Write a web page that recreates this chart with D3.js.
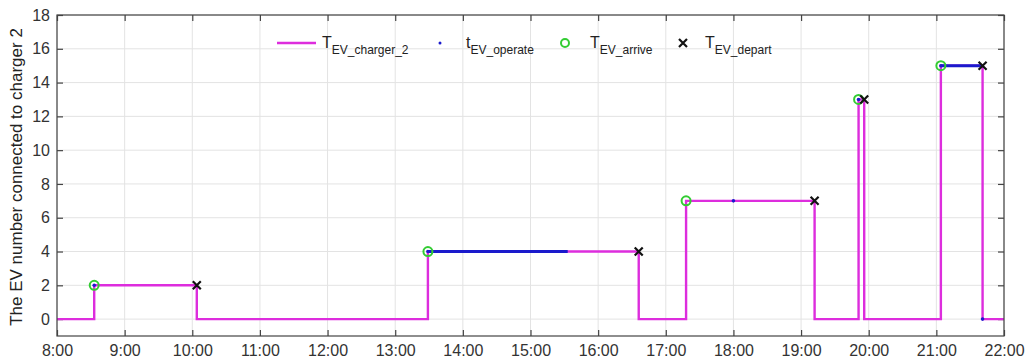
<!DOCTYPE html>
<html>
<head>
<meta charset="utf-8">
<script src="https://cdn.jsdelivr.net/npm/d3@7"></script>
<style>
  body { margin: 0; background: #fff; }
</style>
</head>
<body>
<div id="wrapper"></div>
<script>
// data
const stepTimes = ["8:00", "8:33", "10:04", "13:29", "16:36", "17:18", "19:12", "19:51", "19:56", "21:04", "21:41", "22:00"]
const stepValues = [0, 2, 0, 4, 0, 7, 0, 13, 0, 15, 0, 0]

const arriveTimes = ["8:33", "13:29", "17:18", "19:51", "21:04"]
const arriveValues = [2, 4, 7, 13, 15]

const departTimes = ["10:04", "16:36", "19:12", "19:56", "21:41"]
const departValues = [2, 4, 7, 13, 15]

const operateStart = ["8:33", "13:29", "18:00", "19:51", "21:04", "21:41"]
const operateEnd = ["8:33", "15:33", "18:00", "19:51", "21:41", "21:41"]
const operateValues = [2, 4, 7, 13, 15, 0]

const xTickLabels = ["8:00", "9:00", "10:00", "11:00", "12:00", "13:00", "14:00", "15:00",
  "16:00", "17:00", "18:00", "19:00", "20:00", "21:00", "22:00"]
const yTicks = [0, 2, 4, 6, 8, 10, 12, 14, 16, 18]

const parseTime = d3.timeParse("%H:%M")

const dimensions = {
  width: 1027,
  height: 364,
  margin: { top: 15, right: 23, bottom: 28, left: 57 },
}
dimensions.boundedWidth = dimensions.width - dimensions.margin.left - dimensions.margin.right
dimensions.boundedHeight = dimensions.height - dimensions.margin.top - dimensions.margin.bottom

const svg = d3.select("#wrapper")
  .append("svg")
  .attr("width", dimensions.width)
  .attr("height", dimensions.height)
  .style("font-family", "'Liberation Sans', Arial, sans-serif")

const bounds = svg.append("g")
  .attr("transform", `translate(${dimensions.margin.left},${dimensions.margin.top})`)

const xScale = d3.scaleTime()
  .domain([parseTime("8:00"), parseTime("22:00")])
  .range([0, dimensions.boundedWidth])

const yScale = d3.scaleLinear()
  .domain([-1, 18])
  .range([dimensions.boundedHeight, 0])

const xTicks = xTickLabels.map(parseTime)

// grid
bounds.append("g")
  .selectAll("line")
  .data(xTicks)
  .join("line")
  .attr("x1", d => xScale(d)).attr("x2", d => xScale(d))
  .attr("y1", 0).attr("y2", dimensions.boundedHeight)
  .attr("stroke", "#e3e3e3").attr("stroke-width", 1)

bounds.append("g")
  .selectAll("line")
  .data(yTicks)
  .join("line")
  .attr("y1", d => yScale(d)).attr("y2", d => yScale(d))
  .attr("x1", 0).attr("x2", dimensions.boundedWidth)
  .attr("stroke", "#e3e3e3").attr("stroke-width", 1)

// axes with inward ticks
const tickLen = 6
const xAxisBottom = d3.axisBottom(xScale).tickValues(xTicks)
  .tickFormat((d, i) => xTickLabels[i]).tickSizeInner(-tickLen).tickSizeOuter(0).tickPadding(9)
const xAxisTop = d3.axisTop(xScale).tickValues(xTicks)
  .tickFormat("").tickSizeInner(-tickLen).tickSizeOuter(0)
const yAxisLeft = d3.axisLeft(yScale).tickValues(yTicks)
  .tickSizeInner(-tickLen).tickSizeOuter(0).tickPadding(7)
const yAxisRight = d3.axisRight(yScale).tickValues(yTicks)
  .tickFormat("").tickSizeInner(-tickLen).tickSizeOuter(0)

const styleAxis = g => {
  g.select(".domain").remove()
  g.selectAll(".tick line").attr("stroke", "#444").attr("stroke-width", 1.2)
  g.selectAll(".tick text").attr("fill", "#333").style("font-size", "16px")
}

bounds.append("g").attr("transform", `translate(0,${dimensions.boundedHeight})`).call(xAxisBottom).call(styleAxis)
bounds.append("g").call(xAxisTop).call(styleAxis)
bounds.append("g").call(yAxisLeft).call(styleAxis)
bounds.append("g").attr("transform", `translate(${dimensions.boundedWidth},0)`).call(yAxisRight).call(styleAxis)

// step line
const stepData = stepTimes.map((t, i) => ({ t: parseTime(t), v: stepValues[i] }))
const stepLine = d3.line()
  .x(d => xScale(d.t))
  .y(d => yScale(d.v))
  .curve(d3.curveStepAfter)

bounds.append("path")
  .datum(stepData)
  .attr("d", stepLine)
  .attr("fill", "none")
  .attr("stroke", "#dd2ddd")
  .attr("stroke-width", 2.4)

// operate (blue dots, dense where they run)
const operateData = operateStart.map((s, i) => ({
  s: parseTime(s), e: parseTime(operateEnd[i]), v: operateValues[i],
}))
bounds.append("g")
  .selectAll("line")
  .data(operateData.filter(d => d.e > d.s))
  .join("line")
  .attr("x1", d => xScale(d.s)).attr("x2", d => xScale(d.e))
  .attr("y1", d => yScale(d.v)).attr("y2", d => yScale(d.v))
  .attr("stroke", "#1a1acc").attr("stroke-width", 3)
bounds.append("g")
  .selectAll("circle")
  .data(operateData)
  .join("circle")
  .attr("cx", d => xScale(d.s))
  .attr("cy", d => yScale(d.v))
  .attr("r", 1.8)
  .attr("fill", "#1a1acc")

// arrive circles
bounds.append("g")
  .selectAll("circle")
  .data(arriveTimes.map((t, i) => ({ t: parseTime(t), v: arriveValues[i] })))
  .join("circle")
  .attr("cx", d => xScale(d.t))
  .attr("cy", d => yScale(d.v))
  .attr("r", 4.5)
  .attr("fill", "none")
  .attr("stroke", "#33cc33")
  .attr("stroke-width", 2)

// depart crosses
const cross = 4
bounds.append("g")
  .selectAll("path")
  .data(departTimes.map((t, i) => ({ t: parseTime(t), v: departValues[i] })))
  .join("path")
  .attr("d", d => {
    const x = xScale(d.t), y = yScale(d.v)
    return `M${x - cross},${y - cross}L${x + cross},${y + cross}M${x - cross},${y + cross}L${x + cross},${y - cross}`
  })
  .attr("stroke", "#111")
  .attr("stroke-width", 2.2)

// box
bounds.append("rect")
  .attr("width", dimensions.boundedWidth)
  .attr("height", dimensions.boundedHeight)
  .attr("fill", "none")
  .attr("stroke", "#444")
  .attr("stroke-width", 1.2)

// y label
svg.append("text")
  .attr("transform", `translate(18,177) rotate(-90)`)
  .attr("text-anchor", "middle")
  .attr("dominant-baseline", "middle")
  .style("font-size", "17px")
  .attr("fill", "#222")
  .text("The EV number connected to charger 2")

// legend
const legend = svg.append("g").attr("transform", "translate(0,43)")
const addLabel = (x, main, sub) => {
  const t = legend.append("text").attr("x", x).attr("y", 5).attr("fill", "#222").style("font-size", "16px")
  t.append("tspan").text(main)
  t.append("tspan").attr("dy", 6).style("font-size", "12px").text(sub)
}
legend.append("line").attr("x1", 277).attr("x2", 316).attr("y1", 0).attr("y2", 0)
  .attr("stroke", "#dd2ddd").attr("stroke-width", 2.4)
addLabel(322, "T", "EV_charger_2")
legend.append("circle").attr("cx", 440).attr("cy", 0).attr("r", 1.5).attr("fill", "#1a1acc")
addLabel(466, "t", "EV_operate")
legend.append("circle").attr("cx", 565).attr("cy", 0).attr("r", 4).attr("fill", "none")
  .attr("stroke", "#33cc33").attr("stroke-width", 2)
addLabel(590, "T", "EV_arrive")
legend.append("path").attr("d", "M679,-4L687,4M679,4L687,-4").attr("stroke", "#111").attr("stroke-width", 2.2)
addLabel(705, "T", "EV_depart")
</script>
</body>
</html>
